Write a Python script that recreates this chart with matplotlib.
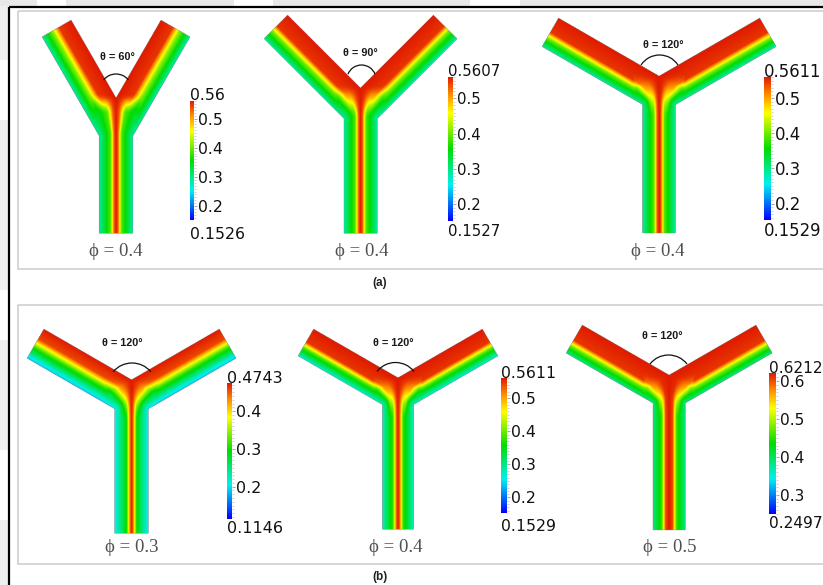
import numpy as np
import matplotlib
matplotlib.use("Agg")
import matplotlib.pyplot as plt
from matplotlib.colors import LinearSegmentedColormap, Normalize
from matplotlib.patches import Arc, Rectangle
from matplotlib.cm import ScalarMappable
from matplotlib.ticker import MultipleLocator, FormatStrFormatter

W, H = 823, 585

# ---- case data -------------------------------------------------------------
theta_deg = [60, 90, 120, 120, 120, 120]          # bifurcation angle
phi_vals = [0.4, 0.4, 0.4, 0.3, 0.4, 0.5]         # volume fraction
cb_min = [0.1526, 0.1527, 0.1529, 0.1146, 0.1529, 0.2497]
cb_max = [0.56, 0.5607, 0.5611, 0.4743, 0.5611, 0.6212]
cb_min_labels = ["0.1526", "0.1527", "0.1529", "0.1146", "0.1529", "0.2497"]
cb_max_labels = ["0.56", "0.5607", "0.5611", "0.4743", "0.5611", "0.6212"]
cb_ticks = [
    [0.2, 0.3, 0.4, 0.5],
    [0.2, 0.3, 0.4, 0.5],
    [0.2, 0.3, 0.4, 0.5],
    [0.2, 0.3, 0.4],
    [0.2, 0.3, 0.4, 0.5],
    [0.3, 0.4, 0.5, 0.6],
]
# cross-channel profiles (fraction of colour range) for the parent stem and
# the daughter branches: (distance knots, level knots)
stem_prof = [
    ([0, 0.12, 0.32, 1.0], [1.0, 0.93, 0.58, 0.33]),
    ([0, 0.12, 0.32, 1.0], [1.0, 0.93, 0.58, 0.33]),
    ([0, 0.12, 0.32, 1.0], [1.0, 0.93, 0.58, 0.33]),
    ([0, 0.10, 0.30, 1.0], [1.0, 0.90, 0.50, 0.24]),
    ([0, 0.11, 0.32, 1.0], [1.0, 0.92, 0.55, 0.30]),
    ([0, 0.22, 0.45, 1.0], [1.0, 0.95, 0.55, 0.36]),
]
arm_prof = [
    ([0, 0.42, 0.64, 1.0], [1.0, 0.97, 0.64, 0.33]),
    ([0, 0.46, 0.66, 1.0], [1.0, 0.97, 0.62, 0.33]),
    ([0, 0.50, 0.70, 1.0], [1.0, 0.97, 0.60, 0.33]),
    ([0, 0.34, 0.60, 1.0], [1.0, 0.95, 0.56, 0.20]),
    ([0, 0.48, 0.68, 1.0], [1.0, 0.97, 0.58, 0.28]),
    ([0, 0.54, 0.74, 1.0], [1.0, 0.97, 0.60, 0.36]),
]
# length (px) below the crotch over which the branch profile turns into the stem one
junction_len = [16, 30, 42, 42, 42, 44]

# ---- layout (pixel coordinates, y downwards) --------------------------------
# xc, crotch y, half width, branch length, stem bottom
geom = [
    (116.0, 98.0, 16.8, 89.6, 233.0),
    (360.7, 88.0, 16.7, 102.7, 233.0),
    (659.0, 76.0, 16.5, 116.0, 233.0),
    (131.0, 380.0, 16.8, 101.0, 533.0),
    (398.0, 378.0, 15.5, 97.0, 529.0),
    (669.0, 375.0, 16.2, 100.0, 530.0),
]
# colour bar: left x, top y, bottom y, width, label size (pt)
cbar_box = [
    (190.0, 101.0, 220.0, 3.8, 11.3),
    (448.0, 77.0, 221.0, 5.0, 10.7),
    (764.0, 77.0, 220.0, 6.5, 11.9),
    (227.0, 383.0, 519.0, 5.0, 11.5),
    (501.0, 378.0, 513.0, 5.5, 11.3),
    (769.0, 373.0, 514.0, 6.5, 11.1),
]
cb_top_y = [94, 71, 71, 377, 372, 367]
cb_bot_y = [233, 231, 230, 527, 525, 522]
theta_pos = [(117, 57), (360, 53), (663, 45), (122, 343), (393, 343), (662, 336)]
phi_pos = [(116, 252), (362, 252), (658, 252), (132, 548), (396, 548), (670, 548)]
# angle arc: centre x, centre y, radius, half span (deg)
arc_spec = [
    (116, 90, 16, 51), (361.5, 79.6, 14.6, 68), (659.5, 77, 22, 57),
    (132, 387.6, 24.6, 50), (395.5, 386, 23.5, 52), (668.5, 378.5, 23.5, 52),
]

cmap = LinearSegmentedColormap.from_list(
    "rainbow_bgyr",
    [(0.0, "#0000ff"), (0.25, "#00f0f0"), (0.5, "#00dc00"),
     (0.75, "#ffff00"), (0.88, "#ff8c00"), (1.0, "#e01b00")],
)


def seg_dist(px, py, ax_, ay_, bx_, by_):
    vx, vy = bx_ - ax_, by_ - ay_
    wx, wy = px - ax_, py - ay_
    t = np.clip((wx * vx + wy * vy) / (vx * vx + vy * vy), 0.0, 1.0)
    return np.hypot(wx - t * vx, wy - t * vy)


def smooth(z):
    z = np.clip(z, 0.0, 1.0)
    return z * z * (3 - 2 * z)


fig = plt.figure(figsize=(W / 100, H / 100), dpi=100)
ax = fig.add_axes([0, 0, 1, 1])
ax.set_xlim(0, W)
ax.set_ylim(H, 0)
ax.axis("off")

# faint background strips and frame
ax.add_patch(Rectangle((0, 0), W, 6, color="#e8e8e8", lw=0, zorder=0))
for gx0, gx1 in [(37, 66), (234, 273), (470, 520)]:
    ax.add_patch(Rectangle((gx0, 0), gx1 - gx0, 6, color="white", lw=0, zorder=0))
ax.add_patch(Rectangle((0, 6), 8, H, color="#efefef", lw=0, zorder=0))
for gy0, gy1 in [(60, 120), (290, 340), (450, 520)]:
    ax.add_patch(Rectangle((0, gy0), 8, gy1 - gy0, color="white", lw=0, zorder=0))
ax.plot([9.5, 9.5], [7, H], color="black", lw=1.6, zorder=1, solid_capstyle="butt")
ax.plot([8.7, W], [7.2, 7.2], color="black", lw=1.6, zorder=1, solid_capstyle="butt")
for (bx0, by0, by1) in [(18, 10.5, 269), (18, 305, 564)]:
    ax.add_patch(Rectangle((bx0, by0), W + 20 - bx0, by1 - by0, fill=False,
                           ec="#cfcfcf", lw=1.2, zorder=1))

ss = 3  # samples per pixel
for k in range(6):
    xc, cy, w, L, yb = geom[k]
    a = np.radians(theta_deg[k] / 2.0)
    sa, ca = np.sin(a), np.cos(a)
    half = L * sa + 2 * w * ca + 3
    x0, x1 = xc - half, xc + half
    y0, y1 = cy - L * ca - 3, yb + 1
    nx, ny = int((x1 - x0) * ss), int((y1 - y0) * ss)
    X, Y = np.meshgrid(x0 + (np.arange(nx) + 0.5) / ss, y0 + (np.arange(ny) + 0.5) / ss)
    Xp = np.abs(X - xc)
    Yr = Y - cy
    s = (Xp * ca + Yr * sa) / (2 * w)
    u = Xp * sa - Yr * ca
    inside = ((s >= 0) & (s <= 1) & (u <= L)) | ((Xp <= w) & (Y >= cy) & (Y <= yb))

    tip_in = (L * sa, cy - L * ca)
    t0 = w * (1 - 2 * ca) / sa
    O = (2 * w * ca + t0 * sa, cy + 2 * w * sa - t0 * ca)
    tip_out = (2 * w * ca + L * sa, cy + 2 * w * sa - L * ca)
    d_axis = seg_dist(Xp, Y, 0.0, cy, 0.0, yb)
    d_wall = seg_dist(Xp, Y, 0.0, cy, *tip_in)
    d_out = np.minimum(seg_dist(Xp, Y, w, yb, *O), seg_dist(Xp, Y, *O, *tip_out))
    d_in = np.minimum(d_axis, d_wall)
    t = d_in / (d_in + d_out + 1e-9)
    jl = junction_len[k]
    g_y = smooth((cy + jl - Y) / (jl + 4.0))
    g_x = smooth((Xp - w) / (0.6 * w))
    g = np.maximum(g_y, g_x)
    v_s = np.interp(t, *stem_prof[k])
    v_a = np.interp(t, *arm_prof[k])
    v = g * v_a + (1 - g) * v_s
    vals = cb_min[k] + v * (cb_max[k] - cb_min[k])
    norm = Normalize(cb_min[k], cb_max[k])
    ax.imshow(np.ma.masked_where(~inside, vals), cmap=cmap, norm=norm,
              extent=(x0, x1, y1, y0), origin="upper", interpolation="antialiased",
              zorder=2)

    # angle arc and label
    acx, acy, ar, asp = arc_spec[k]
    ax.add_patch(Arc((acx, acy), 2 * ar, 2 * ar, theta1=270 - asp, theta2=270 + asp,
                     color="#111111", lw=0.9, zorder=3))
    ax.text(*theta_pos[k], f"θ = {theta_deg[k]}°", ha="center", va="center",
            fontsize=7.8, fontweight="bold", family=["Liberation Sans", "DejaVu Sans"],
            color="#1a1a1a", zorder=4)
    ax.text(*phi_pos[k], f"ϕ = {phi_vals[k]}", ha="center", va="center",
            fontsize=13.5, family=["Liberation Serif", "DejaVu Serif"],
            color="#505050", zorder=4)

    # colour bar
    bx, bt, bb, bw, fs = cbar_box[k]
    cax = fig.add_axes([bx / W, 1 - bb / H, bw / W, (bb - bt) / H])
    cb = fig.colorbar(ScalarMappable(norm=norm, cmap=cmap), cax=cax)
    cb.outline.set_visible(False)
    cb.set_ticks(cb_ticks[k])
    cb.ax.yaxis.set_major_formatter(FormatStrFormatter("%.1f"))
    cb.ax.yaxis.set_minor_locator(MultipleLocator(0.01))
    cb.ax.tick_params(which="major", length=2.5, width=0.6, color="#999999",
                      pad=0.6, labelsize=fs, labelcolor="#111111")
    cb.ax.tick_params(which="minor", length=1.6, width=0.4, color="#aaaaaa")
    base_off = 0.36 * fs * 100 / 72
    ax.text(bx, cb_top_y[k] + base_off, cb_max_labels[k], ha="left", va="baseline",
            fontsize=fs, color="#111111", zorder=4)
    ax.text(bx, cb_bot_y[k] + base_off, cb_min_labels[k], ha="left", va="baseline",
            fontsize=fs, color="#111111", zorder=4)

ax.text(380, 283, "(a)", ha="center", va="center", fontsize=8.5, fontweight="bold",
        family=["Liberation Sans", "DejaVu Sans"], color="#222222")
ax.text(380, 577, "(b)", ha="center", va="center", fontsize=8.5, fontweight="bold",
        family=["Liberation Sans", "DejaVu Sans"], color="#222222")

fig.savefig("out.png", dpi=100)
